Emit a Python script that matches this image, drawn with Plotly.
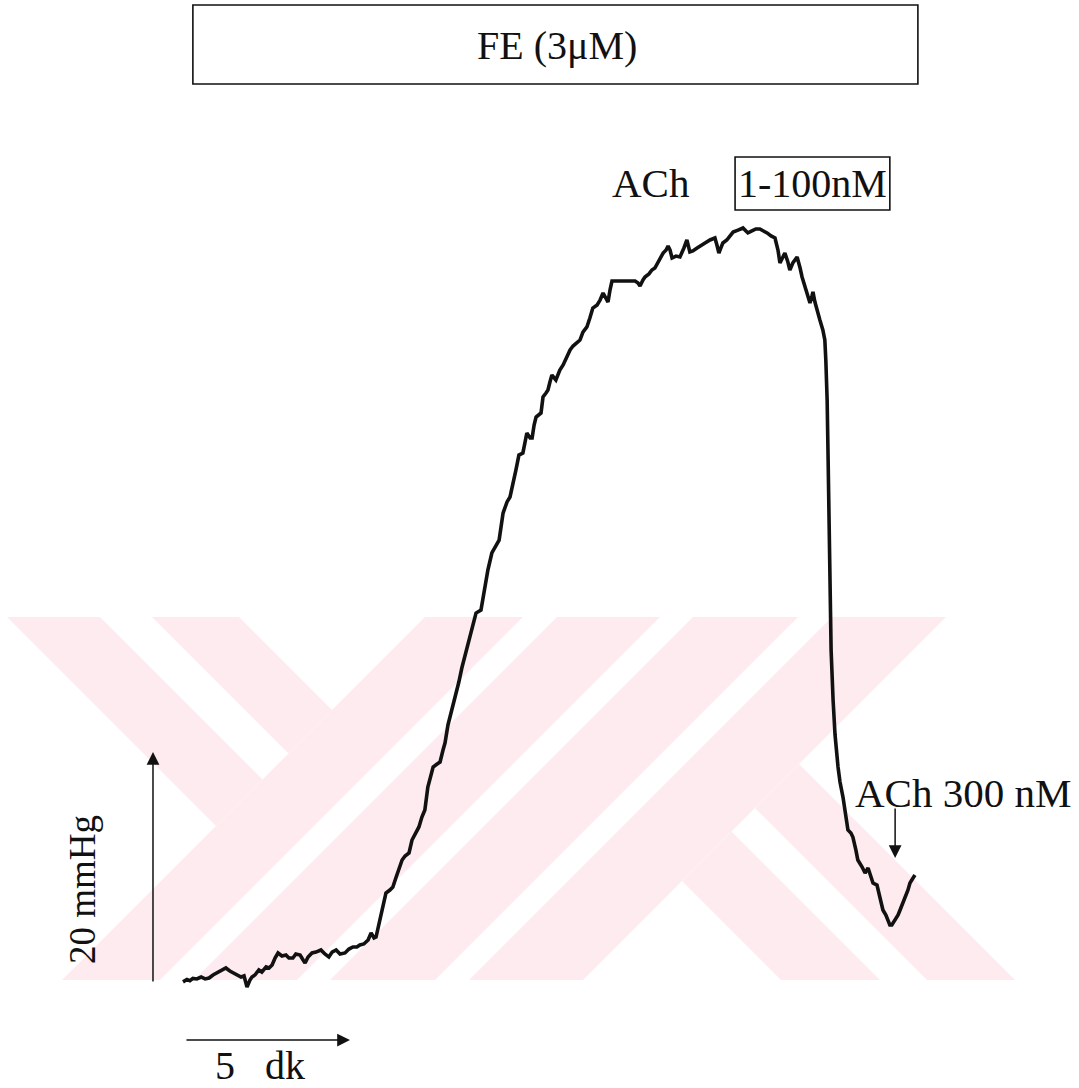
import plotly.graph_objects as go

# ---------------- data (read from the recording) ----------------
TIME_MIN = [0.00, 0.12, 0.21, 0.30, 0.42, 0.55, 0.67, 0.79, 0.91, 1.03, 1.15, 1.30, 1.42, 1.55, 1.67, 1.76,
            1.85, 1.94, 2.03, 2.09, 2.18, 2.30, 2.39, 2.52, 2.61, 2.70, 2.79, 2.88, 3.00, 3.12, 3.21, 3.33,
            3.42, 3.55, 3.64, 3.70, 3.79, 3.91, 4.03, 4.18, 4.30, 4.42, 4.52, 4.64, 4.76, 4.91, 5.03, 5.15,
            5.27, 5.36, 5.48, 5.61, 5.70, 5.79, 5.85, 5.91, 6.00, 6.06, 6.15, 6.27, 6.36, 6.45, 6.55, 6.64,
            6.73, 6.85, 6.94, 7.06, 7.15, 7.24, 7.33, 7.42, 7.52, 7.58, 7.70, 7.79, 7.88, 7.94, 8.03, 8.15,
            8.24, 8.36, 8.45, 8.55, 8.67, 8.76, 8.88, 9.03, 9.09, 9.15, 9.24, 9.36, 9.48, 9.58, 9.70, 9.82,
            9.91, 10.00, 10.09, 10.18, 10.30, 10.36, 10.42, 10.52, 10.58, 10.64, 10.70, 10.85, 10.91, 11.00,
            11.06, 11.12, 11.18, 11.30, 11.42, 11.52, 11.64, 11.73, 11.82, 11.91, 12.03, 12.12, 12.24, 12.33,
            12.42, 12.55, 12.64, 12.73, 12.82, 12.88, 12.94, 13.00, 13.24, 13.48, 13.70, 13.79, 13.85, 13.94,
            14.00, 14.12, 14.21, 14.30, 14.39, 14.48, 14.55, 14.64, 14.70, 14.76, 14.82, 14.94, 15.06, 15.18,
            15.27, 15.36, 15.45, 15.58, 15.70, 15.82, 15.97, 16.12, 16.18, 16.24, 16.30, 16.36, 16.48, 16.58,
            16.67, 16.82, 16.97, 17.06, 17.12, 17.24, 17.36, 17.48, 17.61, 17.70, 17.82, 17.94, 18.03, 18.09,
            18.18, 18.24, 18.33, 18.39, 18.48, 18.61, 18.70, 18.76, 18.88, 19.00, 19.06, 19.09, 19.15, 19.21,
            19.30, 19.39, 19.45, 19.48, 19.52, 19.55, 19.58, 19.61, 19.64, 19.70, 19.76, 19.85, 19.91, 20.00,
            20.09, 20.15, 20.24, 20.30, 20.39, 20.45, 20.58, 20.67, 20.76, 20.85, 20.91, 21.03, 21.12, 21.21,
            21.30, 21.36, 21.42, 21.48, 21.58, 21.67, 21.73, 21.82, 21.88, 21.97, 22.03, 22.12, 22.18]

PRESSURE_MMHG = [0.1, 0.3, 0.2, 0.4, 0.35, 0.52, 0.35, 0.43, 0.69, 0.87, 1.04, 1.30, 1.04, 0.87, 0.69, 0.52,
                 0.61, -0.35, 0.26, 0.52, 0.69, 1.13, 0.95, 1.39, 1.30, 1.56, 2.16, 2.60, 2.34, 2.42, 2.16, 2.16,
                 2.51, 2.42, 1.99, 1.73, 2.25, 2.60, 2.68, 2.86, 2.51, 2.25, 2.68, 2.86, 2.51, 2.60, 2.94, 3.12,
                 3.12, 3.29, 3.38, 3.72, 4.33, 3.90, 3.98, 4.76, 5.71, 6.75, 7.79, 8.05, 8.31, 9.09, 9.96, 10.65,
                 11.00, 11.26, 12.38, 12.99, 13.51, 14.37, 14.98, 16.97, 18.27, 18.70, 18.96, 19.13, 20.17, 20.78, 22.34, 23.64,
                 24.50, 26.06, 27.27, 28.40, 29.70, 30.56, 32.03, 32.29, 33.33, 34.29, 35.76, 37.23, 37.92, 38.35, 40.69, 41.65,
                 42.08, 43.12, 44.42, 45.71, 45.89, 46.75, 47.62, 47.19, 47.19, 48.31, 49.00, 49.35, 50.74, 51.08,
                 51.34, 52.03, 52.64, 52.21, 53.07, 53.51, 54.20, 54.81, 55.15, 55.41, 55.67, 56.36, 56.80, 57.58,
                 58.44, 58.70, 59.13, 59.74, 59.22, 58.96, 60.00, 60.78, 60.78, 60.78, 60.78, 60.61, 60.35, 60.87,
                 61.13, 61.39, 61.73, 61.90, 62.34, 62.77, 63.20, 63.46, 63.81, 63.46, 62.77, 62.94, 62.86, 63.64,
                 64.33, 63.29, 63.38, 63.64, 63.90, 64.07, 64.33, 64.50, 63.90, 63.20, 63.64, 64.07, 64.33, 64.68,
                 65.02, 65.19, 65.37, 65.11, 64.94, 65.11, 65.28, 65.28, 65.11, 64.94, 64.68, 64.50, 63.46, 62.34,
                 62.86, 63.20, 62.42, 61.73, 62.34, 62.86, 61.90, 61.13, 60.00, 58.87, 59.48, 59.83, 58.96, 58.27,
                 57.40, 56.54, 55.67, 53.94, 50.48, 45.28, 40.09, 33.16, 28.83, 24.50, 21.47, 18.70, 17.40, 16.10,
                 14.55, 13.25, 12.99, 12.64, 11.52, 10.65, 10.04, 9.52, 9.96, 9.09, 8.66, 8.48, 7.45, 6.32,
                 5.89, 5.45, 5.02, 5.02, 5.45, 5.89, 6.32, 6.93, 7.45, 8.05, 8.66, 9.09, 9.35]

# application periods (min) and scale bars
FE_LABEL = "FE (3μM)"
FE_PERIOD = [0.30, 22.27]
ACH_LABEL = "1-100nM"
ACH_PERIOD = [16.73, 21.42]
ACH_BOLUS_LABEL = "ACh 300 nM"
ACH_BOLUS_TIME = 21.58
SCALE_MMHG = 20
SCALE_MIN = 5
SCALE_MMHG_LABEL = "20 mmHg"
SCALE_MIN_LABEL = "5   dk"

# ---------------- figure geometry ----------------
W, H = 1079, 1088
X_RANGE = [-5.545, 27.152]
Y_RANGE = [-9.091, 85.108]
FONT = "Liberation Serif, Times New Roman, serif"
INK = "#111111"

fig = go.Figure()

fig.add_trace(go.Scatter(x=TIME_MIN, y=PRESSURE_MMHG, mode="lines",
                         line=dict(color=INK, width=3.6), hoverinfo="skip", showlegend=False))

# ---------------- faint watermark (pixel-space stripes -> paper coords) ----------------
def clip(poly, a, b, c):
    """keep part of polygon with a*x + b*y <= c"""
    out = []
    n = len(poly)
    for i in range(n):
        p, q = poly[i], poly[(i + 1) % n]
        fp = a * p[0] + b * p[1] - c
        fq = a * q[0] + b * q[1] - c
        if fp <= 0:
            out.append(p)
        if (fp < 0 < fq) or (fq < 0 < fp):
            t = fp / (fp - fq)
            out.append((p[0] + t * (q[0] - p[0]), p[1] + t * (q[1] - p[1])))
    return out

TOP, BOT = 617, 980
base = [(-200, TOP), (1300, TOP), (1300, BOT), (-200, BOT)]
pieces = []
for a_, b_ in [(-610, -517), (-465, -378)]:
    pieces.append([(1, 1, 1042), (-1, 1, -a_), (1, -1, b_)])
for c_, d_ in [(1042, 1140), (1174, 1277), (1310, 1415), (1449, 1563)]:
    pieces.append([(-1, -1, -c_), (1, 1, d_)])
for a_, b_ in [(-199, -100), (-53, 35)]:
    pieces.append([(-1, -1, -1563), (-1, 1, -a_), (1, -1, b_)])

for cons in pieces:
    poly = base
    for a_, b_, c_ in cons:
        poly = clip(poly, a_, b_, c_)
    if len(poly) < 3:
        continue
    path = "M " + " L ".join(f"{px / W:.5f},{1 - py / H:.5f}" for px, py in poly) + " Z"
    fig.add_shape(type="path", path=path, xref="paper", yref="paper",
                  fillcolor="#fdebef", line=dict(width=0), layer="below")

# ---------------- application boxes ----------------
fig.add_shape(type="rect", xref="x", yref="y", x0=FE_PERIOD[0], x1=FE_PERIOD[1], y0=77.84, y1=84.68,
              line=dict(color=INK, width=1.6))
fig.add_shape(type="rect", xref="x", yref="y", x0=ACH_PERIOD[0], x1=ACH_PERIOD[1], y0=66.93, y1=71.52,
              line=dict(color=INK, width=1.6))

def label(text, x, y, xanchor="center", angle=0, size=40):
    fig.add_annotation(x=x, y=y, xref="x", yref="y", text=text, showarrow=False,
                       xanchor=xanchor, yanchor="middle", textangle=angle,
                       font=dict(family=FONT, size=size, color=INK))

label(FE_LABEL, 11.33, 81.2, size=40)
label("ACh", 14.18, 69.26, size=41)
label(ACH_LABEL, ACH_PERIOD[0] + 0.04, 69.26, xanchor="left", size=40)
label(ACH_BOLUS_LABEL, 20.30, 16.45, xanchor="left", size=41)
label(SCALE_MMHG_LABEL, -3.06, 8.05, angle=-90, size=37)
label(SCALE_MIN_LABEL, 2.33, -7.1, size=40)

def arrow(x0, y0, x1, y1):
    fig.add_annotation(x=x1, y=y1, ax=x0, ay=y0, xref="x", yref="y", axref="x", ayref="y",
                       text="", showarrow=True, arrowhead=2, arrowsize=1.7, arrowwidth=1.5,
                       arrowcolor=INK)

# scale bars
arrow(-0.909, 0, -0.909, SCALE_MMHG)
arrow(0.06, -4.94, 0.06 + SCALE_MIN, -4.94)
# ACh 300 nM marker
arrow(ACH_BOLUS_TIME, 15.24, ACH_BOLUS_TIME, 10.82)

fig.update_layout(
    width=W, height=H,
    margin=dict(l=0, r=0, t=0, b=0),
    paper_bgcolor="white", plot_bgcolor="rgba(0,0,0,0)",
    xaxis=dict(range=X_RANGE, visible=False, fixedrange=True),
    yaxis=dict(range=Y_RANGE, visible=False, fixedrange=True),
    showlegend=False,
)

fig.write_html("out.html")
